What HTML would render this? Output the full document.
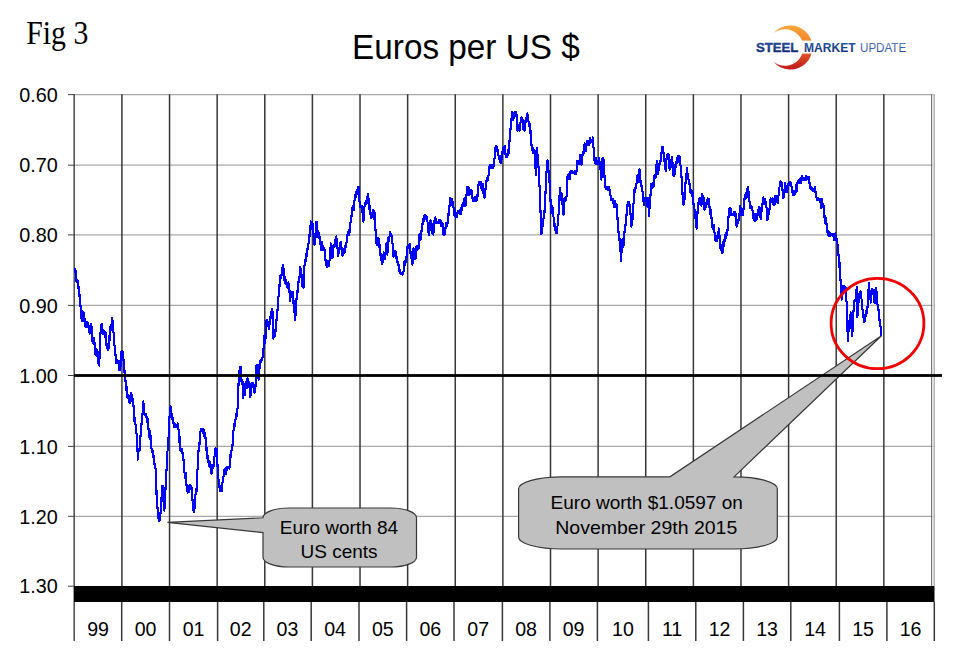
<!DOCTYPE html>
<html><head><meta charset="utf-8"><title>Euros per US $</title>
<style>html,body{margin:0;padding:0;background:#fff;width:966px;height:661px;overflow:hidden;position:relative}</style>
</head><body>
<svg width="966" height="661" viewBox="0 0 966 661" style="position:absolute;left:0;top:0">
<defs><linearGradient id="cres" x1="0" y1="0" x2="0" y2="1"><stop offset="0" stop-color="#f8a83a"/><stop offset="0.45" stop-color="#f07a2a"/><stop offset="1" stop-color="#c0141c"/></linearGradient><linearGradient id="txt" x1="0" y1="0" x2="0" y2="1"><stop offset="0" stop-color="#2a64b4"/><stop offset="1" stop-color="#0a2068"/></linearGradient><linearGradient id="txt2" x1="0" y1="0" x2="0" y2="1"><stop offset="0" stop-color="#5a88cc"/><stop offset="1" stop-color="#24408e"/></linearGradient></defs>
<line x1="74" y1="94.6" x2="934.5" y2="94.6" stroke="#a8a8a8" stroke-width="1.3"/>
<line x1="74" y1="165.2" x2="934.5" y2="165.2" stroke="#a8a8a8" stroke-width="1.3"/>
<line x1="74" y1="234.9" x2="934.5" y2="234.9" stroke="#a8a8a8" stroke-width="1.3"/>
<line x1="74" y1="305.4" x2="934.5" y2="305.4" stroke="#a8a8a8" stroke-width="1.3"/>
<line x1="74" y1="375.5" x2="934.5" y2="375.5" stroke="#a8a8a8" stroke-width="1.3"/>
<line x1="74" y1="446.4" x2="934.5" y2="446.4" stroke="#a8a8a8" stroke-width="1.3"/>
<line x1="74" y1="516.3" x2="934.5" y2="516.3" stroke="#a8a8a8" stroke-width="1.3"/>
<line x1="121.92" y1="94.2" x2="121.92" y2="586" stroke="#383838" stroke-width="1.5"/>
<line x1="169.54" y1="94.2" x2="169.54" y2="586" stroke="#383838" stroke-width="1.5"/>
<line x1="217.16" y1="94.2" x2="217.16" y2="586" stroke="#383838" stroke-width="1.5"/>
<line x1="264.78" y1="94.2" x2="264.78" y2="586" stroke="#383838" stroke-width="1.5"/>
<line x1="312.40" y1="94.2" x2="312.40" y2="586" stroke="#383838" stroke-width="1.5"/>
<line x1="360.02" y1="94.2" x2="360.02" y2="586" stroke="#383838" stroke-width="1.5"/>
<line x1="407.64" y1="94.2" x2="407.64" y2="586" stroke="#383838" stroke-width="1.5"/>
<line x1="455.26" y1="94.2" x2="455.26" y2="586" stroke="#383838" stroke-width="1.5"/>
<line x1="502.88" y1="94.2" x2="502.88" y2="586" stroke="#383838" stroke-width="1.5"/>
<line x1="550.50" y1="94.2" x2="550.50" y2="586" stroke="#383838" stroke-width="1.5"/>
<line x1="598.12" y1="94.2" x2="598.12" y2="586" stroke="#383838" stroke-width="1.5"/>
<line x1="645.74" y1="94.2" x2="645.74" y2="586" stroke="#383838" stroke-width="1.5"/>
<line x1="693.36" y1="94.2" x2="693.36" y2="586" stroke="#383838" stroke-width="1.5"/>
<line x1="740.98" y1="94.2" x2="740.98" y2="586" stroke="#383838" stroke-width="1.5"/>
<line x1="788.60" y1="94.2" x2="788.60" y2="586" stroke="#383838" stroke-width="1.5"/>
<line x1="836.22" y1="94.2" x2="836.22" y2="586" stroke="#383838" stroke-width="1.5"/>
<line x1="883.84" y1="94.2" x2="883.84" y2="586" stroke="#383838" stroke-width="1.5"/>
<line x1="931.8" y1="94.5" x2="931.8" y2="586" stroke="#404040" stroke-width="1"/>
<rect x="932.3" y="94.5" width="1.6" height="492" fill="#e8e8e8"/>
<line x1="934.3" y1="94.5" x2="934.3" y2="586" stroke="#a0a0a0" stroke-width="1"/>
<line x1="121.7" y1="602" x2="121.7" y2="641" stroke="#383838" stroke-width="1.5"/>
<line x1="169.5" y1="602" x2="169.5" y2="641" stroke="#383838" stroke-width="1.5"/>
<line x1="217.6" y1="602" x2="217.6" y2="641" stroke="#383838" stroke-width="1.5"/>
<line x1="263.8" y1="602" x2="263.8" y2="641" stroke="#383838" stroke-width="1.5"/>
<line x1="311.2" y1="602" x2="311.2" y2="641" stroke="#383838" stroke-width="1.5"/>
<line x1="359.0" y1="602" x2="359.0" y2="641" stroke="#383838" stroke-width="1.5"/>
<line x1="406.6" y1="602" x2="406.6" y2="641" stroke="#383838" stroke-width="1.5"/>
<line x1="454.0" y1="602" x2="454.0" y2="641" stroke="#383838" stroke-width="1.5"/>
<line x1="502.4" y1="602" x2="502.4" y2="641" stroke="#383838" stroke-width="1.5"/>
<line x1="549.9" y1="602" x2="549.9" y2="641" stroke="#383838" stroke-width="1.5"/>
<line x1="597.4" y1="602" x2="597.4" y2="641" stroke="#383838" stroke-width="1.5"/>
<line x1="648.4" y1="602" x2="648.4" y2="641" stroke="#383838" stroke-width="1.5"/>
<line x1="695.8" y1="602" x2="695.8" y2="641" stroke="#383838" stroke-width="1.5"/>
<line x1="743.4" y1="602" x2="743.4" y2="641" stroke="#383838" stroke-width="1.5"/>
<line x1="790.8" y1="602" x2="790.8" y2="641" stroke="#383838" stroke-width="1.5"/>
<line x1="839.4" y1="602" x2="839.4" y2="641" stroke="#383838" stroke-width="1.5"/>
<line x1="886.9" y1="602" x2="886.9" y2="641" stroke="#383838" stroke-width="1.5"/>
<line x1="934.3" y1="602" x2="934.3" y2="641" stroke="#383838" stroke-width="1.5"/>
<line x1="74.2" y1="94.2" x2="74.2" y2="641" stroke="#4a4a4a" stroke-width="1.5"/>
<line x1="68" y1="94.6" x2="74.5" y2="94.6" stroke="#404040" stroke-width="1"/>
<line x1="68" y1="165.2" x2="74.5" y2="165.2" stroke="#404040" stroke-width="1"/>
<line x1="68" y1="234.9" x2="74.5" y2="234.9" stroke="#404040" stroke-width="1"/>
<line x1="68" y1="305.4" x2="74.5" y2="305.4" stroke="#404040" stroke-width="1"/>
<line x1="68" y1="375.5" x2="74.5" y2="375.5" stroke="#404040" stroke-width="1"/>
<line x1="68" y1="446.4" x2="74.5" y2="446.4" stroke="#404040" stroke-width="1"/>
<line x1="68" y1="516.3" x2="74.5" y2="516.3" stroke="#404040" stroke-width="1"/>
<line x1="68" y1="586.2" x2="74.5" y2="586.2" stroke="#404040" stroke-width="1"/>
<rect x="74" y="586" width="860.5" height="16" fill="#000"/>
<path d="M74.7,268.2 74.9,268.7 75.1,271.2 75.3,271.8 75.5,272.2 75.7,270.9 75.9,271.6 76.1,275.6 76.3,277.9 76.5,281.8 76.7,280.8 76.9,281.1 77.1,281.2 77.3,280.7 77.5,280.5 77.7,281.8 77.9,281.2 78.1,283.0 78.3,285.0 78.4,284.3 78.6,289.8 78.8,292.2 79.0,296.4 79.2,295.8 79.4,294.8 79.6,295.0 79.8,295.7 80.0,298.3 80.2,300.0 80.4,303.4 80.6,307.6 80.8,313.1 81.0,315.7 81.2,317.7 81.4,316.1 81.6,319.4 81.8,319.5 82.0,320.0 82.2,321.5 82.4,316.7 82.6,311.4 82.8,311.3 83.0,311.6 83.2,312.3 83.4,311.7 83.6,312.2 83.8,312.7 84.0,317.3 84.2,320.9 84.4,317.9 84.6,318.4 84.8,322.8 85.0,320.2 85.2,321.9 85.4,326.7 85.6,325.5 85.8,324.0 86.0,326.4 86.2,326.0 86.4,323.4 86.5,325.4 86.7,326.5 86.9,326.9 87.1,323.3 87.3,322.6 87.5,321.8 87.7,323.1 87.9,324.0 88.1,324.8 88.3,326.7 88.5,326.7 88.7,327.9 88.9,329.8 89.1,330.3 89.3,332.7 89.5,333.0 89.7,333.5 89.9,329.7 90.1,326.1 90.3,326.0 90.5,326.4 90.7,326.3 90.9,324.5 91.1,325.5 91.3,324.2 91.5,327.0 91.8,334.5 92.0,336.4 92.2,341.1 92.4,337.6 92.6,337.5 92.8,337.5 93.0,339.9 93.2,343.6 93.3,337.5 93.5,341.2 93.7,338.3 93.9,340.9 94.1,337.9 94.3,339.2 94.5,343.1 94.7,343.6 94.9,348.3 95.2,354.1 95.4,354.3 95.6,354.5 95.8,350.0 96.0,352.5 96.2,353.7 96.4,355.8 96.5,353.7 96.7,353.0 96.9,349.4 97.1,350.5 97.3,353.9 97.5,350.9 97.7,355.0 97.9,352.6 98.1,355.8 98.3,359.9 98.5,364.0 98.7,363.7 98.9,362.1 99.1,365.0 99.3,365.5 99.5,357.8 99.7,351.7 99.9,347.8 100.1,341.9 100.3,339.3 100.5,333.0 100.7,329.6 100.9,327.4 101.1,325.5 101.3,324.9 101.5,324.6 101.7,324.3 101.9,324.1 102.1,327.9 102.3,327.9 102.5,329.1 102.7,331.6 102.9,330.9 103.1,334.2 103.3,333.8 103.5,334.2 103.7,331.4 103.9,331.0 104.1,334.1 104.3,334.1 104.5,333.4 104.7,332.7 104.9,336.2 105.1,337.1 105.3,332.9 105.5,332.2 105.7,334.6 105.9,335.0 106.1,338.6 106.3,342.2 106.5,345.5 106.7,344.1 106.9,347.6 107.1,344.5 107.3,344.4 107.5,348.0 107.6,344.7 107.8,345.6 108.0,349.7 108.2,348.5 108.4,349.1 108.6,348.7 108.8,346.2 109.0,341.3 109.2,336.3 109.4,340.5 109.6,340.8 109.8,339.7 110.0,330.2 110.2,329.1 110.4,326.2 110.6,328.6 110.8,330.2 111.0,327.6 111.2,324.8 111.4,324.5 111.6,323.9 111.8,321.8 112.0,318.2 112.2,319.2 112.4,323.0 112.6,320.6 112.8,321.9 113.0,325.0 113.2,329.6 113.4,330.9 113.6,333.8 113.8,338.2 114.0,340.2 114.2,342.0 114.4,344.4 114.6,346.4 114.8,348.9 115.0,350.6 115.2,349.3 115.4,352.4 115.6,357.2 115.7,360.4 115.9,361.9 116.1,362.9 116.3,363.0 116.5,361.7 116.7,363.2 116.9,363.3 117.1,362.3 117.3,362.5 117.5,361.8 117.7,360.4 117.9,361.2 118.1,361.4 118.3,362.5 118.5,360.6 118.7,366.0 118.8,367.9 119.0,366.0 119.2,364.9 119.4,370.4 119.6,368.2 119.8,369.1 120.0,370.4 120.2,369.1 120.4,366.7 120.6,366.0 120.8,361.5 121.0,359.6 121.2,353.6 121.4,351.2 121.6,351.9 121.7,352.6 121.9,351.7 122.1,351.4 122.3,352.5 122.5,351.5 122.7,351.4 122.9,352.7 123.1,354.4 123.3,356.7 123.5,359.9 123.7,363.4 123.9,368.9 124.1,372.1 124.3,371.7 124.5,372.0 124.7,370.9 124.9,372.9 125.1,375.5 125.3,376.3 125.5,380.9 125.7,384.6 125.8,387.2 126.0,388.2 126.2,390.6 126.4,386.3 126.6,386.5 126.8,389.4 127.0,390.6 127.2,392.1 127.4,395.6 127.6,398.0 127.8,397.8 128.0,395.9 128.1,396.5 128.3,396.2 128.5,395.0 128.7,396.3 128.9,396.6 129.1,398.5 129.3,401.5 129.5,403.0 129.7,402.9 129.9,402.7 130.1,402.8 130.3,401.6 130.5,401.3 130.7,396.7 130.9,398.1 131.1,393.8 131.3,392.7 131.5,396.5 131.7,394.2 131.9,395.6 132.1,395.3 132.3,399.7 132.5,398.6 132.7,401.1 132.9,400.5 133.1,399.5 133.3,402.1 133.5,406.3 133.7,407.0 133.9,406.0 134.1,408.8 134.3,415.9 134.5,421.9 134.7,421.2 134.9,419.8 135.1,418.0 135.3,423.5 135.5,424.8 135.7,427.1 135.9,428.7 136.1,430.9 136.3,430.5 136.5,433.0 136.7,436.9 136.9,440.3 137.2,443.0 137.4,447.3 137.6,453.2 137.8,459.7 138.0,454.0 138.2,451.8 138.4,451.3 138.6,450.9 138.8,451.1 139.0,449.6 139.2,449.7 139.4,449.0 139.6,450.1 139.8,444.3 140.0,441.2 140.2,440.3 140.4,438.5 140.6,434.1 140.8,430.8 141.0,429.7 141.2,424.4 141.4,423.0 141.6,424.9 141.8,420.4 141.9,417.8 142.1,414.3 142.3,415.3 142.5,413.1 142.7,412.4 142.9,407.6 143.1,404.5 143.3,401.5 143.5,402.9 143.7,407.8 143.9,409.4 144.1,410.6 144.3,414.6 144.5,414.9 144.7,414.9 144.8,414.7 145.0,414.2 145.2,414.7 145.4,414.1 145.6,415.0 145.8,414.8 146.0,413.6 146.2,413.6 146.4,415.6 146.6,418.3 146.8,416.6 147.0,418.8 147.2,419.3 147.4,422.4 147.5,421.7 147.7,418.7 147.9,421.0 148.1,423.9 148.3,424.6 148.5,429.1 148.7,430.6 148.9,437.0 149.1,435.5 149.3,435.7 149.5,436.4 149.7,439.2 149.9,436.2 150.1,431.0 150.3,432.8 150.5,435.0 150.7,436.8 150.9,443.9 151.1,444.6 151.3,445.5 151.5,448.1 151.7,449.3 151.9,450.9 152.1,450.8 152.3,450.0 152.5,452.5 152.7,452.8 152.9,450.6 153.1,455.1 153.3,457.1 153.5,455.4 153.7,458.9 153.9,460.6 154.1,457.3 154.3,462.2 154.5,463.8 154.7,466.9 154.9,468.2 155.1,468.5 155.3,465.3 155.5,468.6 155.7,469.4 155.9,469.4 156.1,476.9 156.4,486.8 156.6,496.0 156.8,504.2 157.0,504.4 157.2,504.9 157.4,508.2 157.6,507.4 157.8,510.7 158.0,514.2 158.2,515.4 158.4,518.8 158.6,516.7 158.8,520.7 159.0,518.7 159.2,518.8 159.4,519.4 159.6,520.3 159.8,519.1 160.0,519.3 160.2,518.8 160.4,515.8 160.6,510.7 160.8,508.7 161.0,509.1 161.2,504.0 161.4,499.0 161.6,496.7 161.8,489.4 162.0,486.4 162.2,487.3 162.4,489.2 162.6,485.8 162.8,493.7 163.0,494.8 163.2,497.7 163.4,502.0 163.6,501.5 163.8,505.7 164.0,508.6 164.2,506.9 164.4,510.6 164.6,504.4 164.8,500.0 165.0,500.4 165.2,497.5 165.4,492.9 165.6,485.9 165.8,479.7 166.0,476.1 166.2,474.4 166.4,471.5 166.6,468.7 166.8,464.5 167.0,461.7 167.2,458.2 167.4,451.7 167.7,449.8 167.9,445.1 168.1,440.3 168.3,441.7 168.5,437.0 168.7,436.1 168.9,430.4 169.1,428.5 169.2,430.3 169.4,419.7 169.6,414.6 169.8,411.8 170.0,407.6 170.2,411.7 170.4,412.8 170.6,410.0 170.8,406.4 171.0,410.3 171.2,413.0 171.4,411.7 171.5,414.8 171.7,416.9 171.9,419.4 172.1,414.3 172.3,414.3 172.5,417.5 172.7,420.2 172.9,423.3 173.1,422.1 173.3,422.6 173.5,422.1 173.7,423.5 173.9,422.7 174.1,423.8 174.3,427.0 174.5,425.1 174.7,425.4 174.9,427.3 175.1,426.8 175.3,426.8 175.4,424.4 175.6,427.1 175.8,426.7 176.0,426.5 176.2,426.6 176.4,426.2 176.6,426.3 176.8,426.9 177.0,427.2 177.2,426.9 177.4,425.9 177.6,423.5 177.8,425.8 178.0,426.9 178.2,428.9 178.4,428.3 178.6,430.3 178.8,433.6 179.0,435.2 179.2,442.6 179.4,437.8 179.6,439.3 179.8,436.5 180.0,441.1 180.2,450.0 180.4,449.3 180.6,450.5 180.8,449.8 181.0,449.5 181.2,449.4 181.4,449.1 181.6,448.7 181.8,448.9 182.0,448.7 182.2,449.7 182.4,450.7 182.6,454.5 182.8,460.3 183.0,458.5 183.2,454.1 183.4,456.9 183.6,461.5 183.8,464.5 184.0,465.7 184.2,469.0 184.4,471.7 184.6,473.7 184.8,477.2 185.0,478.2 185.2,476.1 185.4,473.1 185.6,472.6 185.7,473.3 185.9,476.0 186.1,478.9 186.3,483.1 186.5,486.1 186.7,486.8 186.9,487.7 187.1,484.9 187.3,487.2 187.5,491.2 187.7,492.6 187.9,492.1 188.1,490.9 188.3,488.5 188.5,488.9 188.7,491.9 188.9,491.4 189.1,488.4 189.3,486.8 189.5,485.0 189.7,485.8 189.9,485.0 190.1,485.6 190.3,485.8 190.5,486.3 190.7,488.6 190.9,488.7 191.1,486.4 191.3,489.4 191.5,487.5 191.7,494.7 191.9,497.1 192.1,499.2 192.3,498.4 192.5,500.4 192.7,499.7 192.9,502.1 193.1,505.5 193.3,507.7 193.5,510.6 193.7,511.9 193.9,511.8 194.1,511.4 194.3,510.2 194.5,508.5 194.7,506.9 194.9,507.4 195.1,505.7 195.3,498.0 195.4,496.5 195.6,492.7 195.8,493.0 196.0,490.0 196.2,488.9 196.4,493.1 196.6,489.0 196.8,484.6 197.0,479.5 197.2,471.8 197.4,470.5 197.6,468.6 197.8,465.2 198.0,459.7 198.2,456.3 198.4,450.2 198.6,451.3 198.8,450.7 199.0,445.5 199.2,447.1 199.4,447.3 199.6,440.3 199.8,436.0 200.0,433.8 200.2,431.6 200.4,431.8 200.6,431.8 200.7,431.2 200.9,429.3 201.1,429.8 201.3,429.3 201.5,430.0 201.7,429.6 201.9,429.5 202.1,431.4 202.3,429.2 202.5,430.1 202.6,432.5 202.8,431.1 203.0,432.5 203.2,429.3 203.4,430.9 203.6,430.7 203.8,429.6 204.0,431.3 204.2,430.5 204.4,436.4 204.6,435.7 204.7,437.2 204.9,435.9 205.1,432.7 205.3,435.2 205.5,437.2 205.7,440.9 205.9,441.8 206.1,443.6 206.3,446.8 206.5,450.6 206.7,450.1 206.8,447.4 207.0,452.4 207.2,453.9 207.4,458.1 207.6,455.1 207.8,455.5 208.0,456.8 208.2,459.3 208.4,461.8 208.6,463.7 208.8,462.8 209.0,464.1 209.2,466.6 209.4,465.5 209.6,461.2 209.8,462.5 210.0,464.2 210.2,464.6 210.4,467.4 210.6,466.3 210.8,466.5 211.0,466.2 211.2,468.1 211.4,472.7 211.6,474.0 211.8,473.3 212.0,469.9 212.2,467.4 212.4,464.7 212.6,466.3 212.8,468.5 213.0,464.5 213.2,466.3 213.4,468.1 213.6,466.0 213.8,461.6 214.0,459.1 214.2,457.0 214.4,457.3 214.6,455.8 214.8,450.0 215.0,449.7 215.2,449.5 215.4,448.5 215.6,449.4 215.8,448.6 216.0,453.1 216.2,455.2 216.4,454.3 216.6,448.9 216.8,451.0 217.0,455.8 217.2,458.3 217.4,462.3 217.6,467.8 217.8,472.4 218.0,472.9 218.2,477.3 218.4,478.9 218.6,479.3 218.8,482.8 219.0,486.4 219.2,487.5 219.4,484.8 219.6,487.6 219.8,487.3 220.0,489.8 220.2,491.2 220.4,490.6 220.6,490.5 220.8,490.1 221.0,485.8 221.2,485.5 221.3,485.5 221.5,491.1 221.7,487.9 221.9,489.8 222.1,490.8 222.3,485.5 222.5,482.4 222.7,481.8 222.9,482.2 223.1,479.7 223.3,481.0 223.5,476.1 223.7,476.2 223.9,473.3 224.1,469.7 224.3,472.8 224.5,469.0 224.7,472.0 224.9,472.2 225.1,474.5 225.3,470.4 225.5,472.0 225.7,474.2 225.9,472.4 226.1,470.5 226.3,468.7 226.5,467.2 226.7,466.8 226.9,467.6 227.1,467.1 227.3,469.8 227.5,466.8 227.7,466.7 227.9,467.8 228.1,467.0 228.3,467.3 228.5,467.3 228.7,467.0 228.9,467.8 229.1,467.8 229.3,468.7 229.5,468.2 229.7,464.3 229.9,466.7 230.1,466.3 230.3,462.7 230.5,456.2 230.7,451.5 230.8,456.9 231.0,452.8 231.2,451.5 231.4,451.0 231.6,449.5 231.8,447.7 232.0,448.2 232.2,445.9 232.4,446.6 232.6,443.8 232.8,441.3 233.0,440.8 233.2,433.3 233.4,432.5 233.6,429.5 233.8,425.2 234.0,423.6 234.2,425.2 234.4,423.7 234.6,426.5 234.8,423.0 235.0,421.7 235.2,422.7 235.4,419.6 235.6,419.0 235.8,417.6 236.0,416.4 236.2,414.1 236.3,414.4 236.5,413.4 236.7,413.9 236.9,414.7 237.1,415.8 237.3,410.3 237.5,409.1 237.7,405.4 237.9,399.6 238.2,394.0 238.4,387.4 238.6,381.8 238.8,381.2 239.0,375.3 239.2,371.2 239.4,373.3 239.6,372.1 239.8,370.3 239.9,370.1 240.1,368.2 240.3,366.9 240.5,367.0 240.7,367.1 240.9,368.2 241.1,375.4 241.3,379.7 241.5,381.4 241.7,379.3 241.9,382.1 242.1,383.9 242.2,384.0 242.4,383.9 242.6,381.0 242.8,385.4 243.0,388.1 243.2,397.7 243.4,396.8 243.6,393.5 243.8,395.0 244.0,390.3 244.2,390.8 244.4,392.6 244.6,395.3 244.8,391.8 245.0,393.6 245.2,390.8 245.4,387.8 245.5,383.3 245.7,385.3 245.9,388.6 246.1,386.1 246.3,383.1 246.5,381.2 246.7,386.7 246.9,388.3 247.1,385.9 247.3,380.2 247.5,378.1 247.7,379.5 247.9,379.9 248.1,381.3 248.3,386.4 248.5,384.9 248.7,384.9 248.8,381.9 249.0,383.6 249.2,386.8 249.4,384.7 249.6,385.5 249.8,389.1 250.0,395.5 250.2,396.9 250.4,397.0 250.6,394.7 250.8,389.3 251.0,386.1 251.2,387.9 251.4,385.3 251.6,382.9 251.8,382.9 252.0,382.9 252.2,382.6 252.4,383.6 252.6,386.7 252.8,384.0 253.0,386.0 253.2,382.8 253.4,384.1 253.6,384.2 253.8,385.3 254.1,387.8 254.3,387.1 254.5,393.2 254.7,391.7 254.9,390.0 255.1,389.3 255.3,387.8 255.6,386.0 255.8,378.9 256.0,374.8 256.2,366.5 256.4,365.9 256.6,364.6 256.8,365.4 257.0,365.2 257.2,365.3 257.4,365.2 257.6,364.7 257.8,373.1 258.0,373.2 258.2,375.2 258.4,377.7 258.6,379.5 258.8,379.3 259.0,378.9 259.2,372.1 259.4,370.4 259.6,367.8 259.8,363.5 260.0,360.5 260.2,361.6 260.4,362.4 260.6,361.7 260.8,362.3 261.0,360.1 261.2,359.7 261.4,359.1 261.6,360.1 261.8,359.5 262.0,359.3 262.2,360.4 262.4,357.9 262.6,357.4 262.8,357.5 263.0,353.6 263.2,351.4 263.4,349.1 263.6,348.0 263.8,342.9 264.0,341.2 264.2,340.7 264.4,335.2 264.6,337.2 264.8,339.5 265.0,341.1 265.1,343.1 265.3,341.9 265.5,337.9 265.7,333.2 265.9,328.0 266.1,325.1 266.3,321.9 266.5,320.5 266.7,320.7 266.9,321.0 267.1,322.7 267.3,320.1 267.5,321.3 267.6,324.0 267.8,325.7 268.0,324.9 268.2,323.8 268.4,323.3 268.6,325.3 268.8,329.5 269.0,325.6 269.2,325.2 269.4,325.4 269.6,324.4 269.8,321.0 270.0,320.2 270.2,318.6 270.4,318.8 270.6,315.9 270.8,318.0 271.0,312.9 271.2,311.8 271.4,311.1 271.6,312.9 271.8,310.6 272.0,311.3 272.2,309.1 272.4,309.4 272.6,315.8 272.8,324.2 273.0,329.6 273.2,336.0 273.4,338.6 273.6,336.7 273.8,335.7 274.0,335.3 274.2,333.7 274.4,337.0 274.6,336.6 274.8,335.3 275.0,333.3 275.2,330.1 275.4,332.1 275.6,331.0 275.8,326.7 276.0,323.7 276.2,321.8 276.4,319.1 276.6,320.4 276.8,315.9 277.0,312.1 277.2,312.1 277.4,312.0 277.6,307.6 277.8,300.9 278.0,303.0 278.2,301.6 278.4,297.5 278.6,295.9 278.8,296.5 279.0,288.0 279.2,289.2 279.4,289.4 279.6,282.2 279.8,282.5 280.0,276.1 280.2,277.3 280.4,276.6 280.6,278.7 280.8,275.0 281.0,276.3 281.2,276.6 281.4,276.0 281.5,275.2 281.7,275.0 281.9,273.9 282.1,268.9 282.3,268.1 282.5,267.4 282.7,266.8 282.9,264.8 283.1,266.5 283.3,268.3 283.5,268.3 283.7,271.6 283.9,271.9 284.1,274.6 284.3,278.1 284.5,280.6 284.7,283.3 284.9,281.0 285.1,278.4 285.3,277.5 285.5,279.5 285.7,283.1 285.9,281.8 286.1,280.4 286.3,280.9 286.5,284.6 286.7,282.7 286.9,286.4 287.1,286.2 287.3,286.4 287.5,287.7 287.7,285.0 287.9,286.7 288.1,287.0 288.3,282.4 288.5,283.4 288.7,284.1 288.9,284.7 289.1,287.8 289.3,286.4 289.5,291.2 289.7,295.7 290.0,300.8 290.2,301.4 290.4,300.0 290.6,295.3 290.8,293.8 291.0,292.7 291.2,292.0 291.4,291.8 291.5,291.9 291.7,292.1 291.9,292.6 292.1,291.9 292.3,292.2 292.5,291.7 292.7,293.2 292.9,298.6 293.1,297.0 293.3,301.4 293.5,303.5 293.7,301.0 293.9,306.2 294.0,309.6 294.2,312.3 294.4,312.1 294.6,313.5 294.8,320.0 295.0,320.5 295.2,315.6 295.4,315.6 295.6,315.0 295.8,310.3 296.0,310.2 296.2,303.3 296.4,298.9 296.6,299.8 296.8,297.0 297.0,291.6 297.2,290.9 297.4,292.3 297.6,289.5 297.8,291.8 298.0,283.6 298.2,284.6 298.4,281.8 298.6,282.0 298.8,282.7 299.0,278.6 299.2,277.3 299.4,276.9 299.6,277.4 299.8,273.9 300.0,270.3 300.2,267.3 300.4,269.8 300.6,268.2 300.8,268.7 301.0,268.6 301.2,269.7 301.4,273.1 301.6,276.5 301.8,278.8 302.0,279.9 302.2,283.5 302.4,286.7 302.6,284.2 302.8,285.8 303.0,284.5 303.2,283.7 303.4,286.4 303.6,287.7 303.8,287.5 304.0,278.9 304.2,272.7 304.4,266.4 304.6,264.8 304.8,261.9 305.0,259.9 305.2,261.4 305.4,260.4 305.6,259.4 305.8,260.8 306.0,259.3 306.2,256.3 306.4,253.2 306.6,257.0 306.8,251.2 307.0,250.5 307.2,249.4 307.4,249.9 307.6,247.7 307.8,247.8 308.0,248.7 308.2,247.2 308.4,244.8 308.6,243.2 308.8,243.4 309.0,243.1 309.2,242.3 309.4,239.6 309.6,233.5 309.8,233.7 310.0,232.7 310.2,229.8 310.4,225.8 310.6,227.6 310.8,221.4 311.0,224.5 311.2,224.7 311.4,229.3 311.6,226.0 311.8,224.4 312.0,221.6 312.2,225.0 312.4,223.9 312.6,223.9 312.8,223.9 313.0,225.5 313.1,228.7 313.3,234.1 313.5,233.4 313.7,237.8 313.9,241.2 314.1,244.3 314.3,243.2 314.5,244.7 314.7,239.1 314.9,238.3 315.1,237.7 315.3,239.3 315.5,237.8 315.7,234.4 315.9,230.1 316.1,224.6 316.3,224.4 316.5,221.6 316.7,222.8 316.9,224.7 317.1,227.2 317.3,227.3 317.5,230.7 317.7,233.9 317.9,235.4 318.1,235.4 318.2,235.1 318.4,237.9 318.6,236.0 318.8,236.6 319.0,235.7 319.2,233.0 319.4,235.6 319.6,236.5 319.8,237.6 320.0,240.9 320.2,241.2 320.4,242.9 320.6,246.0 320.8,245.7 321.0,249.9 321.2,248.7 321.4,248.9 321.6,244.6 321.8,243.2 322.0,241.7 322.2,246.1 322.4,248.0 322.6,245.7 322.8,247.6 323.0,249.4 323.2,249.4 323.4,250.0 323.6,248.9 323.8,248.7 324.0,250.2 324.2,248.6 324.4,248.5 324.6,251.3 324.8,251.0 325.0,250.0 325.2,255.7 325.4,258.5 325.6,261.7 325.8,260.0 326.0,264.7 326.2,261.2 326.4,260.5 326.6,263.0 326.8,267.0 327.0,264.3 327.2,263.9 327.4,262.6 327.6,261.1 327.8,263.8 328.0,262.0 328.2,263.9 328.4,264.4 328.6,266.1 328.8,264.0 328.9,264.7 329.1,265.0 329.3,261.8 329.5,260.9 329.7,258.9 329.9,257.2 330.1,258.8 330.3,255.4 330.5,249.5 330.7,243.5 330.9,243.7 331.1,243.7 331.3,248.4 331.5,247.3 331.7,253.1 331.9,255.4 332.1,258.4 332.3,257.3 332.5,258.0 332.7,256.6 332.9,255.5 333.1,254.4 333.3,252.5 333.5,245.5 333.7,247.4 333.9,247.5 334.1,247.4 334.3,245.3 334.4,245.4 334.6,244.9 334.8,244.1 335.0,246.4 335.2,241.6 335.4,241.7 335.6,238.5 335.8,237.2 336.0,240.4 336.2,237.2 336.4,236.0 336.6,240.9 336.8,242.8 337.0,245.9 337.2,247.8 337.4,248.9 337.6,248.5 337.8,250.2 338.0,256.2 338.2,254.0 338.4,250.4 338.6,252.7 338.8,253.6 339.0,250.2 339.2,251.7 339.4,247.9 339.5,248.5 339.7,245.1 339.9,243.0 340.1,243.2 340.3,243.3 340.5,244.8 340.7,241.7 340.9,243.9 341.1,245.8 341.3,249.1 341.5,247.0 341.7,251.7 341.9,250.5 342.1,251.9 342.3,254.7 342.5,256.2 342.7,255.4 342.9,252.9 343.1,252.0 343.3,250.1 343.5,249.2 343.7,250.7 343.9,253.1 344.1,252.4 344.3,251.9 344.5,252.9 344.7,251.2 344.9,247.5 345.1,249.2 345.3,245.8 345.5,247.1 345.7,243.6 345.9,247.2 346.1,243.5 346.3,244.9 346.5,242.8 346.7,239.3 346.9,238.4 347.1,239.3 347.3,239.3 347.5,234.6 347.7,233.2 347.9,231.7 348.1,233.5 348.3,234.7 348.5,234.2 348.7,235.4 348.9,232.6 349.1,231.4 349.3,229.3 349.5,229.9 349.7,232.8 349.9,230.3 350.1,226.5 350.2,223.6 350.4,222.4 350.6,222.5 350.8,218.9 351.0,220.0 351.2,216.0 351.4,216.7 351.6,216.3 351.8,216.2 352.0,208.3 352.2,209.6 352.4,210.5 352.6,210.3 352.8,208.8 353.0,206.4 353.2,205.4 353.4,207.8 353.6,207.0 353.8,209.8 354.0,202.8 354.2,201.1 354.4,201.3 354.6,200.7 354.8,196.0 355.0,195.1 355.2,196.3 355.4,197.2 355.6,196.7 355.8,192.0 356.0,197.6 356.2,193.8 356.4,192.8 356.5,191.6 356.7,192.2 356.9,190.0 357.1,189.8 357.3,193.8 357.5,192.7 357.7,188.7 357.9,188.2 358.1,191.5 358.3,187.2 358.5,186.9 358.7,187.0 358.9,191.6 359.0,189.4 359.2,194.1 359.4,199.3 359.6,203.0 359.8,207.2 360.0,205.9 360.2,206.3 360.4,206.1 360.6,206.0 360.8,205.8 361.0,207.0 361.2,206.8 361.4,206.5 361.6,206.0 361.8,206.4 362.0,206.2 362.2,206.5 362.4,209.4 362.6,214.1 362.8,218.5 363.0,217.5 363.2,220.8 363.4,221.7 363.6,218.6 363.8,218.0 364.0,216.3 364.2,211.6 364.4,207.3 364.6,205.2 364.8,204.7 365.0,204.0 365.2,203.6 365.4,203.0 365.6,202.9 365.8,204.1 366.0,203.4 366.2,203.6 366.4,200.6 366.5,202.2 366.7,201.3 366.9,203.6 367.1,197.8 367.3,197.1 367.5,199.0 367.7,194.1 367.9,194.5 368.1,197.3 368.3,197.4 368.5,198.5 368.7,202.4 368.9,203.2 369.1,205.8 369.2,208.7 369.4,209.9 369.6,205.7 369.8,207.7 370.0,209.9 370.2,211.9 370.4,211.6 370.6,216.3 370.8,217.7 371.0,217.6 371.2,212.6 371.4,214.7 371.6,217.1 371.8,214.9 372.0,214.2 372.2,215.1 372.4,213.8 372.6,215.6 372.8,214.8 373.0,215.5 373.2,214.7 373.4,209.9 373.6,211.6 373.8,214.8 374.0,219.4 374.2,218.2 374.4,217.7 374.6,214.2 374.8,212.8 375.0,215.3 375.2,221.7 375.4,227.0 375.6,231.4 375.8,237.0 376.0,237.3 376.2,239.6 376.4,243.0 376.6,244.2 376.8,245.0 377.0,244.4 377.2,243.3 377.4,240.1 377.6,244.9 377.8,243.7 378.0,238.3 378.2,238.9 378.4,238.7 378.6,239.0 378.8,243.5 379.0,247.1 379.2,246.1 379.4,246.3 379.6,244.6 379.8,247.3 380.0,249.6 380.2,248.6 380.4,250.3 380.6,257.1 380.8,260.5 381.0,257.8 381.2,257.8 381.4,259.6 381.6,259.8 381.8,260.9 382.0,264.1 382.2,263.8 382.4,262.6 382.6,261.2 382.8,261.7 383.0,261.7 383.2,261.5 383.4,256.7 383.6,252.7 383.8,252.4 384.0,255.7 384.2,254.1 384.4,255.3 384.6,255.4 384.8,256.4 385.0,258.7 385.1,254.7 385.3,255.2 385.5,254.5 385.7,253.5 385.9,251.1 386.1,248.9 386.3,246.0 386.5,243.0 386.7,249.2 386.9,253.3 387.1,253.1 387.3,254.7 387.5,252.0 387.7,244.7 387.9,239.9 388.1,237.7 388.3,239.5 388.5,240.9 388.7,239.3 388.9,239.7 389.1,241.3 389.2,236.5 389.4,236.6 389.6,235.6 389.8,232.1 390.0,234.4 390.2,234.5 390.4,232.8 390.6,233.5 390.8,235.2 391.0,235.4 391.2,236.0 391.4,235.4 391.6,235.2 391.8,236.6 392.0,236.6 392.1,240.0 392.3,241.3 392.5,243.2 392.7,245.9 392.9,250.8 393.1,254.0 393.3,256.2 393.5,256.6 393.7,254.1 393.9,254.9 394.1,254.2 394.3,251.9 394.5,251.7 394.6,251.2 394.8,251.3 395.0,251.7 395.2,252.3 395.4,251.8 395.6,251.5 395.8,251.7 396.0,252.6 396.2,252.3 396.4,255.5 396.6,259.5 396.8,259.7 397.0,256.9 397.2,260.3 397.4,260.0 397.6,263.7 397.8,261.4 397.9,263.5 398.1,264.0 398.3,262.8 398.5,264.7 398.7,267.7 398.9,268.8 399.1,268.3 399.3,271.4 399.5,269.5 399.7,273.4 399.9,271.7 400.1,269.5 400.3,271.6 400.5,273.9 400.7,274.0 400.9,274.2 401.1,273.9 401.3,274.2 401.5,273.9 401.7,273.5 401.9,274.3 402.0,273.8 402.2,273.0 402.4,274.5 402.6,274.6 402.8,274.3 403.0,273.0 403.2,273.7 403.4,271.5 403.6,271.1 403.8,271.3 404.0,268.3 404.2,267.1 404.4,261.4 404.6,262.6 404.8,264.5 405.0,264.8 405.2,263.6 405.4,262.4 405.6,262.3 405.8,260.9 406.0,258.9 406.2,257.3 406.4,259.6 406.5,257.4 406.7,257.7 406.9,254.1 407.1,251.7 407.3,247.6 407.5,246.4 407.7,247.5 407.9,247.6 408.1,245.7 408.3,246.6 408.5,245.0 408.7,245.3 408.9,245.0 409.1,248.2 409.3,244.2 409.5,244.1 409.7,244.1 409.9,244.2 410.1,245.8 410.3,247.3 410.5,251.5 410.6,254.9 410.8,257.5 411.0,258.1 411.2,256.3 411.4,256.7 411.6,256.5 411.8,258.1 412.0,257.9 412.2,264.6 412.4,263.5 412.6,263.6 412.8,262.8 413.0,256.7 413.2,252.3 413.4,248.3 413.6,253.0 413.8,252.0 414.0,250.8 414.2,248.9 414.4,250.8 414.6,250.4 414.7,254.2 414.9,255.7 415.1,259.3 415.3,258.5 415.5,258.9 415.7,257.3 415.9,256.4 416.1,251.5 416.3,249.6 416.5,246.7 416.7,245.9 416.9,247.1 417.1,248.3 417.3,249.3 417.5,250.2 417.8,248.1 418.0,247.3 418.2,247.4 418.4,249.2 418.6,248.9 418.8,243.2 419.0,242.5 419.2,237.8 419.4,235.0 419.6,234.4 419.8,237.6 420.0,237.7 420.2,238.3 420.4,239.7 420.6,239.1 420.8,235.9 421.0,234.5 421.2,234.3 421.4,232.5 421.6,229.2 421.8,229.2 422.0,225.4 422.2,224.6 422.4,223.3 422.6,224.7 422.8,222.7 422.9,220.6 423.1,220.1 423.3,219.2 423.5,222.3 423.7,220.5 423.9,218.1 424.1,216.2 424.3,216.1 424.5,218.2 424.7,219.5 424.9,214.7 425.1,216.7 425.3,217.7 425.5,215.5 425.7,215.5 425.9,218.0 426.1,216.8 426.3,217.1 426.5,217.1 426.7,217.5 426.9,216.9 427.1,217.6 427.2,217.4 427.4,221.8 427.6,222.4 427.8,225.0 428.0,225.9 428.2,231.7 428.4,232.1 428.6,233.4 428.8,234.3 429.0,234.6 429.2,232.9 429.4,232.7 429.6,229.0 429.8,224.2 430.0,221.5 430.1,223.6 430.3,225.2 430.5,220.4 430.7,222.7 430.9,221.9 431.1,222.4 431.3,221.7 431.5,223.5 431.8,225.5 432.0,226.0 432.2,233.4 432.4,232.8 432.6,233.2 432.8,234.1 433.0,232.0 433.2,231.4 433.4,234.8 433.6,229.6 433.8,224.6 434.0,220.7 434.2,221.1 434.4,222.6 434.6,220.3 434.8,220.5 435.0,218.9 435.2,217.4 435.4,218.3 435.6,218.9 435.8,222.8 436.0,221.2 436.2,222.7 436.4,222.1 436.6,222.5 436.8,222.6 437.0,223.0 437.2,222.1 437.4,222.3 437.6,222.6 437.8,222.7 438.0,223.0 438.2,222.4 438.4,222.6 438.6,221.7 438.8,221.8 439.0,222.3 439.2,220.3 439.4,223.4 439.6,222.9 439.8,222.1 440.0,223.1 440.1,221.8 440.3,220.2 440.5,220.2 440.7,224.7 440.9,225.1 441.1,225.6 441.3,224.4 441.5,223.4 441.7,223.5 441.9,223.1 442.1,223.2 442.3,222.9 442.5,223.1 442.6,224.6 442.8,231.3 443.0,230.0 443.2,231.0 443.4,233.2 443.6,234.9 443.8,234.5 444.0,233.4 444.2,233.1 444.4,234.8 444.6,234.8 444.8,232.6 445.0,229.4 445.2,228.3 445.4,228.6 445.6,226.8 445.8,223.4 445.9,228.1 446.1,226.3 446.3,226.2 446.5,225.2 446.7,224.0 446.9,224.4 447.1,224.0 447.3,225.9 447.5,223.2 447.7,219.8 447.9,216.9 448.1,214.1 448.3,214.9 448.5,214.4 448.7,210.8 448.9,211.5 449.0,215.0 449.2,210.5 449.4,208.5 449.6,204.4 449.8,198.5 450.0,198.4 450.2,198.8 450.4,199.9 450.6,201.2 450.8,199.4 451.0,205.2 451.2,203.1 451.4,204.2 451.6,200.6 451.8,198.7 451.9,199.1 452.1,199.7 452.3,203.9 452.5,204.1 452.7,202.0 452.9,203.1 453.1,205.3 453.3,203.9 453.5,207.5 453.7,207.8 453.9,209.4 454.1,211.2 454.3,214.1 454.5,215.4 454.7,211.2 454.9,209.8 455.1,214.8 455.3,216.2 455.5,217.2 455.7,214.0 455.9,217.6 456.1,217.4 456.3,216.7 456.5,216.6 456.7,216.9 456.9,216.8 457.1,217.5 457.3,215.1 457.5,212.6 457.7,211.1 457.9,212.0 458.1,212.1 458.3,212.0 458.5,212.6 458.7,212.9 458.9,213.4 459.1,213.5 459.3,212.7 459.5,211.4 459.7,211.8 459.9,214.0 460.1,214.0 460.3,213.8 460.4,210.7 460.6,208.2 460.8,211.5 461.0,209.8 461.2,214.0 461.4,211.6 461.6,209.9 461.8,204.9 462.0,205.6 462.2,205.3 462.4,206.6 462.6,205.7 462.8,203.2 463.0,204.4 463.2,206.5 463.4,205.5 463.6,200.6 463.8,201.1 464.0,201.8 464.2,202.5 464.4,199.4 464.6,198.1 464.8,198.4 465.0,200.1 465.2,205.5 465.4,206.1 465.6,204.4 465.8,198.1 466.0,195.6 466.2,197.2 466.4,197.8 466.6,193.5 466.8,189.2 467.0,187.0 467.2,187.0 467.4,187.0 467.5,186.6 467.7,188.2 467.9,186.7 468.1,188.6 468.3,190.3 468.5,191.1 468.7,191.9 468.9,188.1 469.1,191.2 469.3,195.0 469.5,193.8 469.7,192.7 469.9,192.7 470.1,193.8 470.3,193.8 470.5,193.3 470.6,193.2 470.8,194.5 471.0,193.7 471.2,190.0 471.4,190.6 471.6,190.3 471.8,194.5 472.0,193.2 472.2,193.5 472.4,197.8 472.6,199.4 472.8,201.3 473.0,200.4 473.2,199.7 473.4,198.6 473.5,199.5 473.7,198.3 473.9,198.3 474.1,199.4 474.3,199.8 474.5,200.8 474.7,200.8 474.9,199.9 475.1,199.0 475.3,197.6 475.5,196.6 475.7,197.3 475.9,200.6 476.1,200.2 476.3,199.6 476.5,200.7 476.7,200.2 476.9,195.2 477.1,196.1 477.3,195.2 477.5,193.8 477.7,195.5 477.9,195.8 478.1,194.4 478.3,188.9 478.5,184.5 478.7,183.7 478.9,182.1 479.1,183.3 479.3,184.6 479.5,184.0 479.7,183.4 479.9,182.0 480.0,183.0 480.2,182.7 480.4,182.7 480.6,182.2 480.8,182.6 481.0,182.2 481.2,183.5 481.4,188.5 481.6,185.3 481.8,183.7 482.0,188.2 482.2,189.7 482.4,184.9 482.6,186.3 482.8,183.8 483.0,188.2 483.2,191.8 483.4,191.0 483.6,194.9 483.8,193.3 484.0,196.3 484.2,197.0 484.4,196.8 484.6,196.9 484.8,197.6 485.0,190.0 485.2,190.3 485.4,191.9 485.5,189.4 485.7,184.8 485.9,183.8 486.1,180.6 486.3,180.8 486.5,180.6 486.7,181.7 486.9,178.9 487.1,178.1 487.3,178.5 487.5,178.6 487.7,180.6 487.9,178.0 488.0,175.5 488.2,178.0 488.4,176.6 488.6,175.8 488.8,173.1 489.0,173.7 489.2,170.8 489.4,166.3 489.6,166.9 489.8,167.6 490.0,167.7 490.2,167.0 490.4,164.9 490.6,164.9 490.8,165.2 490.9,164.9 491.1,166.0 491.3,167.5 491.5,167.4 491.7,167.8 491.9,165.6 492.1,166.3 492.3,165.5 492.5,167.4 492.7,167.8 492.9,167.4 493.1,167.6 493.3,166.0 493.5,165.7 493.7,166.6 493.9,163.8 494.1,164.6 494.3,161.9 494.5,158.7 494.7,158.4 494.9,156.9 495.1,153.5 495.3,148.4 495.5,147.5 495.7,147.3 495.9,148.5 496.1,148.7 496.3,145.8 496.5,150.7 496.7,146.2 496.9,147.4 497.0,146.8 497.2,150.1 497.4,149.4 497.6,149.9 497.8,151.8 498.0,153.4 498.2,152.4 498.4,154.6 498.6,155.9 498.8,158.9 499.0,157.9 499.1,158.2 499.3,157.5 499.5,155.7 499.7,156.8 499.9,158.2 500.1,162.3 500.3,161.8 500.5,161.0 500.7,163.2 500.9,162.8 501.1,160.9 501.3,159.7 501.5,159.1 501.7,156.5 501.9,155.7 502.1,156.0 502.3,158.7 502.5,152.1 502.7,147.7 502.9,148.7 503.1,148.4 503.3,149.2 503.5,148.4 503.7,147.6 503.9,149.1 504.1,147.2 504.3,147.6 504.5,149.5 504.8,150.5 505.0,148.7 505.2,146.3 505.4,151.3 505.6,156.1 505.8,157.2 506.0,157.0 506.2,155.4 506.3,155.2 506.5,156.1 506.7,155.8 506.9,156.2 507.1,157.1 507.3,155.8 507.5,155.8 507.7,154.3 507.9,152.7 508.1,150.3 508.3,150.6 508.5,153.8 508.7,150.9 508.9,146.2 509.1,145.9 509.3,146.8 509.5,141.1 509.7,137.5 509.9,133.0 510.1,132.6 510.3,132.0 510.5,128.3 510.7,129.7 510.9,129.6 511.1,126.6 511.3,122.8 511.5,118.8 511.7,115.0 511.9,113.9 512.1,112.4 512.3,116.7 512.5,115.4 512.7,115.6 512.9,118.2 513.1,119.7 513.3,119.2 513.5,113.4 513.6,116.9 513.8,118.3 514.0,117.0 514.2,116.7 514.4,114.1 514.6,112.1 514.8,113.1 515.0,112.8 515.2,112.5 515.4,112.4 515.6,112.3 515.8,113.5 516.0,113.6 516.2,112.7 516.4,112.5 516.6,118.6 516.8,119.9 516.9,123.8 517.1,127.3 517.3,126.1 517.5,130.7 517.7,128.8 517.9,129.3 518.1,127.7 518.3,125.7 518.5,128.1 518.7,127.0 518.9,125.3 519.1,128.3 519.3,130.6 519.5,130.5 519.6,128.5 519.8,125.3 520.0,126.4 520.2,123.6 520.4,124.4 520.6,120.8 520.8,119.4 521.0,118.8 521.2,118.6 521.4,117.4 521.6,117.3 521.8,117.6 522.0,118.1 522.2,118.1 522.4,117.8 522.6,120.4 522.8,122.6 523.0,127.1 523.2,129.3 523.4,127.7 523.6,127.4 523.8,130.0 524.0,125.8 524.2,124.8 524.3,128.8 524.5,129.5 524.7,129.7 524.9,130.6 525.1,129.0 525.3,125.8 525.5,121.5 525.7,117.7 525.9,118.2 526.1,120.2 526.3,119.0 526.4,117.1 526.6,118.0 526.8,119.5 527.0,120.0 527.2,115.0 527.4,113.5 527.6,115.1 527.8,115.2 528.0,118.9 528.2,121.4 528.4,120.8 528.6,122.4 528.8,122.8 529.0,122.6 529.2,122.7 529.4,126.8 529.6,127.1 529.8,124.2 530.0,123.6 530.2,127.0 530.4,133.8 530.6,132.5 530.8,131.1 531.0,133.9 531.2,136.1 531.4,142.6 531.6,147.3 531.8,147.4 532.0,147.3 532.2,148.2 532.4,150.2 532.6,150.3 532.8,148.2 533.0,149.5 533.2,152.7 533.4,149.9 533.6,150.2 533.8,150.9 534.0,151.5 534.2,152.1 534.4,151.1 534.6,150.2 534.8,153.7 535.0,158.4 535.2,161.4 535.5,167.3 535.7,171.8 535.9,174.8 536.1,168.6 536.3,164.8 536.5,155.3 536.7,152.4 536.9,149.4 537.1,148.4 537.3,153.0 537.5,154.8 537.7,160.0 537.9,158.5 538.1,160.7 538.3,165.6 538.5,166.3 538.7,170.4 538.9,171.9 539.1,175.2 539.3,178.5 539.5,186.6 539.7,185.9 539.9,190.3 540.1,196.0 540.3,204.9 540.5,210.7 540.8,221.4 541.0,225.2 541.2,234.1 541.4,229.4 541.6,233.1 541.8,233.4 542.0,229.3 542.2,227.2 542.4,223.5 542.6,226.0 542.8,225.7 542.9,219.3 543.1,218.5 543.3,219.5 543.5,218.2 543.7,218.1 543.9,216.5 544.1,215.8 544.3,215.0 544.5,210.2 544.7,212.3 544.9,208.4 545.1,205.0 545.3,198.0 545.5,192.7 545.7,186.9 545.9,183.7 546.1,176.3 546.3,176.2 546.5,172.5 546.7,168.1 546.9,163.7 547.1,162.8 547.3,163.8 547.5,160.0 547.7,161.2 547.9,170.2 548.1,167.7 548.3,168.4 548.5,172.4 548.7,173.8 548.9,171.0 549.1,174.6 549.3,179.7 549.5,180.6 549.7,187.3 549.9,191.6 550.1,197.5 550.3,196.6 550.5,199.6 550.7,206.6 550.9,213.6 551.1,211.5 551.3,207.2 551.5,208.5 551.7,208.9 551.8,210.1 552.0,208.7 552.2,207.0 552.4,205.6 552.6,208.9 552.8,210.5 553.0,214.3 553.2,213.3 553.4,216.6 553.6,217.2 553.8,219.1 553.9,223.2 554.1,225.0 554.3,225.9 554.5,223.4 554.7,225.3 554.9,229.0 555.1,229.1 555.3,230.7 555.5,227.9 555.7,226.3 555.9,229.0 556.0,233.4 556.2,233.1 556.4,232.5 556.6,233.2 556.8,231.0 557.0,232.0 557.2,230.6 557.4,226.9 557.6,225.3 557.8,222.1 558.0,219.3 558.2,217.9 558.4,216.8 558.6,212.8 558.8,204.4 559.0,200.4 559.2,199.8 559.4,195.7 559.6,194.8 559.8,191.9 560.0,187.6 560.2,188.6 560.4,191.7 560.6,195.3 560.8,199.6 561.0,197.5 561.2,195.8 561.4,195.2 561.6,193.5 561.8,200.3 562.0,199.4 562.2,200.2 562.4,202.3 562.6,205.1 562.8,210.4 563.0,209.2 563.2,213.0 563.4,215.0 563.6,214.5 563.8,208.4 564.0,210.3 564.2,205.9 564.4,203.0 564.5,198.2 564.7,200.0 564.9,199.8 565.1,200.8 565.3,200.1 565.5,197.9 565.7,199.9 565.9,199.2 566.1,198.0 566.3,197.1 566.5,196.6 566.6,194.9 566.8,192.1 567.0,185.6 567.2,188.5 567.4,182.8 567.6,174.8 567.8,176.2 568.0,179.4 568.2,176.1 568.4,174.1 568.6,175.3 568.7,174.0 568.9,174.6 569.1,174.3 569.3,174.4 569.5,173.9 569.7,179.1 569.9,177.9 570.1,173.0 570.3,174.0 570.5,171.3 570.7,171.8 570.9,171.3 571.1,172.0 571.3,172.5 571.5,172.1 571.7,171.7 571.9,171.7 572.0,171.6 572.2,171.7 572.4,171.6 572.6,171.4 572.8,172.3 573.0,171.8 573.2,172.8 573.4,172.3 573.6,172.3 573.8,171.8 574.0,172.7 574.2,171.4 574.4,173.9 574.6,173.8 574.8,173.0 575.0,173.8 575.2,174.0 575.4,174.0 575.5,173.4 575.7,173.7 575.9,173.5 576.1,174.0 576.3,173.4 576.5,171.5 576.7,167.9 576.9,164.5 577.1,162.1 577.3,160.7 577.5,160.8 577.7,161.1 577.9,162.0 578.1,160.9 578.2,163.6 578.4,164.3 578.6,163.0 578.8,164.5 579.0,164.0 579.2,163.1 579.4,164.4 579.6,164.2 579.8,163.2 580.0,160.9 580.2,158.4 580.3,155.5 580.5,154.6 580.7,158.5 580.9,160.4 581.1,160.1 581.3,163.5 581.5,164.4 581.7,164.5 581.9,163.5 582.1,159.7 582.3,159.5 582.4,157.7 582.6,152.7 582.8,151.7 583.0,152.5 583.2,152.1 583.4,152.5 583.6,153.7 583.8,153.5 584.0,151.7 584.2,151.1 584.4,148.6 584.6,143.3 584.8,143.9 585.0,149.0 585.2,147.0 585.4,148.6 585.6,151.3 585.8,148.3 586.0,146.8 586.2,146.9 586.4,147.6 586.6,144.0 586.8,141.9 587.0,141.3 587.2,143.1 587.4,143.5 587.6,145.1 587.8,145.2 588.0,144.5 588.2,142.1 588.4,145.4 588.6,144.7 588.8,140.7 589.0,145.5 589.2,143.5 589.4,141.2 589.6,143.8 589.8,140.9 590.0,137.7 590.2,139.6 590.4,139.5 590.6,139.6 590.8,139.6 591.0,142.3 591.2,142.2 591.3,141.6 591.5,141.7 591.7,141.7 591.9,141.7 592.1,140.4 592.3,142.2 592.5,139.4 592.7,137.4 592.9,138.8 593.1,142.9 593.3,146.4 593.5,147.0 593.7,149.3 593.9,147.6 594.1,151.2 594.3,160.0 594.5,158.4 594.7,162.8 594.9,163.5 595.1,163.4 595.3,162.9 595.5,163.2 595.7,160.7 595.9,158.0 596.1,163.1 596.3,164.1 596.5,164.2 596.7,162.3 596.9,163.3 597.1,161.6 597.3,164.1 597.5,164.3 597.7,164.1 597.9,164.3 598.1,164.3 598.3,164.2 598.5,161.9 598.7,157.6 598.9,158.1 599.1,157.8 599.3,158.9 599.5,163.4 599.7,162.3 599.9,162.0 600.1,163.7 600.3,166.1 600.4,167.6 600.6,170.8 600.8,168.8 601.0,171.9 601.2,176.0 601.4,180.0 601.6,174.2 601.8,169.5 602.1,164.5 602.3,160.1 602.5,157.8 602.7,158.1 602.9,161.2 603.1,161.7 603.3,161.4 603.5,159.5 603.7,163.2 603.9,163.2 604.0,165.2 604.2,169.5 604.4,172.2 604.6,179.4 604.8,180.4 605.0,184.2 605.2,187.4 605.4,187.0 605.6,188.5 605.8,189.2 606.0,189.1 606.2,187.4 606.4,187.1 606.6,187.0 606.8,188.0 607.0,188.7 607.2,189.4 607.4,188.7 607.6,189.5 607.8,188.8 607.9,189.3 608.1,187.6 608.3,187.8 608.5,187.9 608.7,187.1 608.9,188.3 609.1,190.3 609.3,187.1 609.5,189.5 609.7,193.4 609.9,192.7 610.1,191.8 610.3,195.2 610.5,194.9 610.7,195.2 610.9,195.9 611.1,200.2 611.3,198.7 611.5,199.9 611.6,200.3 611.8,200.1 612.0,199.3 612.2,200.1 612.4,200.3 612.6,199.1 612.8,200.5 613.0,199.1 613.2,203.2 613.4,203.7 613.6,202.6 613.8,203.7 614.0,206.4 614.2,206.8 614.4,204.9 614.6,203.0 614.8,200.6 615.0,201.2 615.2,202.8 615.4,203.1 615.6,204.3 615.8,206.6 616.0,206.6 616.2,205.4 616.4,204.1 616.6,206.4 616.8,204.9 617.0,212.6 617.2,214.5 617.3,217.1 617.5,217.2 617.7,224.2 617.9,226.9 618.1,226.3 618.3,230.8 618.5,231.2 618.7,235.2 618.9,237.0 619.1,238.2 619.3,240.0 619.5,238.4 619.7,243.1 619.9,242.6 620.1,247.5 620.3,247.8 620.5,250.7 620.7,254.9 620.9,260.4 621.1,261.2 621.3,256.1 621.5,251.7 621.7,250.4 621.9,249.1 622.0,245.5 622.2,245.4 622.4,239.2 622.6,240.9 622.8,244.0 623.0,246.5 623.2,244.3 623.4,246.8 623.6,244.4 623.8,245.3 623.9,242.2 624.1,240.1 624.3,238.9 624.5,231.8 624.7,228.7 624.9,227.5 625.1,226.3 625.3,226.0 625.5,225.3 625.7,222.2 625.9,222.9 626.1,219.5 626.3,218.1 626.5,215.8 626.7,211.6 626.9,211.8 627.1,210.4 627.3,206.1 627.5,204.6 627.7,202.3 627.9,202.1 628.1,202.2 628.3,206.1 628.5,203.3 628.7,205.7 628.9,205.2 629.1,203.4 629.3,202.5 629.5,204.8 629.7,206.9 629.9,212.9 630.0,209.7 630.2,212.5 630.4,211.1 630.6,215.6 630.8,218.9 631.0,220.7 631.2,226.1 631.4,226.6 631.6,224.5 631.8,223.2 632.0,218.8 632.2,218.3 632.4,219.0 632.6,219.8 632.8,217.6 633.0,213.8 633.2,209.6 633.3,205.8 633.5,203.3 633.7,201.7 633.9,196.3 634.1,197.2 634.3,192.4 634.5,189.8 634.7,189.6 634.9,189.3 635.1,192.3 635.3,190.6 635.5,187.7 635.7,188.0 635.9,185.0 636.1,185.8 636.3,184.6 636.4,183.9 636.6,182.7 636.8,180.2 637.0,177.7 637.2,177.3 637.4,177.5 637.6,174.9 637.8,179.1 638.0,181.9 638.2,177.3 638.4,178.6 638.5,176.8 638.7,175.8 638.9,172.2 639.1,174.9 639.3,171.2 639.5,169.4 639.7,173.6 639.9,174.8 640.1,173.5 640.3,175.2 640.5,181.3 640.6,183.9 640.8,185.6 641.0,182.1 641.2,182.8 641.4,186.1 641.6,185.5 641.8,190.8 642.0,191.1 642.2,190.8 642.4,191.1 642.6,192.7 642.7,197.1 642.9,197.5 643.1,194.8 643.3,196.4 643.5,199.6 643.7,205.4 643.9,201.8 644.1,199.5 644.3,198.2 644.5,199.2 644.7,198.8 644.9,198.5 645.1,198.6 645.3,198.1 645.5,197.8 645.7,198.2 645.9,198.3 646.0,198.1 646.2,200.7 646.4,199.4 646.6,200.2 646.8,201.5 647.0,204.4 647.2,205.3 647.4,206.6 647.6,205.0 647.8,204.2 648.0,199.1 648.2,198.0 648.4,199.6 648.6,206.6 648.8,212.5 649.0,216.0 649.2,214.4 649.4,209.7 649.6,207.1 649.8,203.5 650.0,203.6 650.1,197.7 650.3,198.3 650.5,195.4 650.7,191.4 650.9,188.8 651.1,186.4 651.3,184.1 651.5,185.0 651.7,187.3 651.9,186.8 652.1,187.6 652.3,187.8 652.5,183.8 652.7,185.0 652.9,185.9 653.1,182.9 653.2,183.5 653.4,185.4 653.6,186.9 653.8,184.7 654.0,182.5 654.2,179.1 654.4,175.4 654.6,175.6 654.8,175.4 655.0,178.0 655.2,178.2 655.4,176.9 655.6,177.1 655.8,175.1 656.0,172.3 656.2,171.9 656.4,168.8 656.6,163.4 656.8,161.1 657.0,163.3 657.2,165.1 657.4,169.7 657.6,171.3 657.8,174.5 658.0,174.2 658.1,172.1 658.3,172.4 658.5,169.0 658.7,169.9 658.9,167.8 659.1,167.6 659.3,164.5 659.5,163.2 659.7,164.7 659.9,163.3 660.1,160.6 660.3,160.4 660.5,161.7 660.7,158.5 660.9,159.6 661.1,157.3 661.3,154.3 661.5,153.3 661.7,150.6 661.8,147.2 662.0,149.0 662.2,149.4 662.4,147.6 662.6,147.5 662.8,147.5 663.0,146.9 663.2,149.0 663.4,151.8 663.6,153.4 663.8,158.7 664.0,160.6 664.2,159.1 664.4,158.9 664.6,162.5 664.8,165.9 665.0,167.5 665.2,167.0 665.4,169.4 665.6,170.2 665.8,171.3 666.0,165.0 666.2,162.8 666.4,158.8 666.6,158.5 666.8,158.0 666.9,154.6 667.1,157.9 667.3,155.1 667.5,159.2 667.7,156.7 667.9,154.3 668.1,157.3 668.3,157.3 668.5,157.4 668.7,154.6 668.9,156.8 669.0,161.2 669.2,164.6 669.4,168.1 669.6,169.2 669.8,169.5 670.0,168.1 670.2,163.4 670.4,160.3 670.6,160.9 670.8,164.9 671.0,167.5 671.1,164.7 671.3,165.7 671.5,163.8 671.7,163.0 671.9,159.5 672.1,157.5 672.3,156.9 672.5,163.2 672.8,164.1 673.0,168.9 673.2,174.4 673.4,174.7 673.6,175.8 673.8,175.0 674.0,175.4 674.2,173.6 674.4,175.9 674.6,173.4 674.8,173.4 674.9,171.1 675.1,169.4 675.3,165.0 675.5,164.1 675.7,167.2 675.9,165.7 676.1,163.6 676.3,161.7 676.5,162.9 676.7,162.1 676.9,162.2 677.1,162.0 677.3,163.2 677.5,157.8 677.7,156.1 677.9,156.5 678.1,158.3 678.3,157.1 678.5,158.9 678.7,159.5 678.9,162.4 679.1,157.5 679.3,157.0 679.5,156.0 679.7,161.9 679.9,162.0 680.1,161.1 680.3,164.0 680.4,166.0 680.6,165.6 680.8,170.2 681.0,174.4 681.2,176.9 681.4,177.0 681.6,176.6 681.8,178.8 682.0,183.8 682.2,187.6 682.4,193.0 682.6,195.8 682.7,192.8 682.9,198.7 683.1,196.8 683.3,201.9 683.5,205.0 683.7,204.1 683.9,202.5 684.1,201.4 684.3,200.8 684.5,199.9 684.7,194.1 684.9,195.0 685.1,191.4 685.3,183.6 685.5,184.0 685.7,179.7 685.9,177.9 686.1,176.3 686.3,173.4 686.5,173.3 686.7,171.3 686.9,169.2 687.1,167.7 687.3,167.7 687.5,174.5 687.7,178.1 687.9,174.2 688.1,175.3 688.3,179.7 688.5,179.2 688.7,181.8 688.9,183.1 689.1,180.5 689.3,180.0 689.5,183.8 689.7,187.9 689.9,187.5 690.1,191.4 690.3,192.5 690.5,192.4 690.7,193.0 690.9,192.8 691.1,190.5 691.3,190.6 691.5,190.4 691.7,190.9 691.9,192.0 692.1,196.5 692.3,193.5 692.5,193.3 692.7,192.2 692.9,195.8 693.1,200.6 693.3,199.8 693.5,205.1 693.7,203.6 693.9,206.6 694.1,208.5 694.3,209.2 694.5,209.5 694.7,211.9 694.8,214.4 695.0,217.1 695.2,217.1 695.4,214.9 695.6,219.4 695.8,223.7 696.0,223.3 696.2,224.3 696.4,227.4 696.6,228.5 696.8,221.6 697.0,218.2 697.2,219.9 697.4,216.0 697.6,209.6 697.8,205.8 698.0,203.1 698.2,203.0 698.4,202.6 698.6,204.1 698.8,204.5 699.0,204.0 699.2,200.3 699.4,200.1 699.6,197.8 699.7,198.8 699.9,199.5 700.1,199.8 700.3,197.9 700.5,200.9 700.7,202.0 700.9,204.4 701.1,205.6 701.3,205.4 701.5,205.3 701.7,203.0 701.8,197.7 702.0,194.4 702.2,195.1 702.4,196.6 702.6,196.2 702.8,195.6 703.0,198.1 703.2,197.8 703.4,198.9 703.6,201.4 703.8,198.1 703.9,199.3 704.1,202.0 704.3,205.5 704.5,209.7 704.7,209.6 704.9,208.3 705.1,207.1 705.3,203.4 705.5,203.4 705.7,207.2 705.9,203.3 706.1,205.0 706.3,202.7 706.5,203.1 706.7,201.8 706.9,204.1 707.1,201.4 707.3,202.3 707.5,199.4 707.7,199.0 707.9,198.4 708.1,199.8 708.3,198.8 708.5,199.2 708.7,199.3 708.9,199.3 709.1,199.6 709.2,201.7 709.4,205.7 709.6,208.1 709.8,206.8 710.0,206.6 710.2,210.4 710.4,214.7 710.6,209.3 710.8,213.2 711.0,213.1 711.2,213.9 711.4,216.8 711.6,218.8 711.8,217.7 712.0,222.9 712.2,225.9 712.4,226.2 712.6,228.2 712.8,226.9 712.9,225.3 713.1,226.0 713.3,228.4 713.5,230.2 713.7,229.7 713.9,227.7 714.1,225.0 714.3,230.4 714.5,232.9 714.7,232.4 714.9,236.9 715.1,239.7 715.3,240.1 715.5,240.1 715.7,239.5 715.9,241.2 716.1,240.8 716.3,241.0 716.5,240.6 716.7,241.2 716.9,239.6 717.1,236.2 717.3,235.5 717.5,238.3 717.7,235.9 717.9,238.6 718.1,234.9 718.3,237.2 718.5,231.7 718.7,228.4 718.9,230.6 719.1,232.9 719.3,233.2 719.5,235.3 719.7,237.4 719.9,239.3 720.1,245.3 720.2,247.7 720.4,246.2 720.6,244.3 720.8,247.9 721.0,249.2 721.2,249.8 721.4,248.5 721.6,249.8 721.8,251.7 722.0,249.8 722.2,253.0 722.4,252.8 722.6,252.8 722.8,251.6 723.0,246.4 723.2,243.3 723.4,241.4 723.6,246.4 723.8,243.2 724.0,244.3 724.1,243.3 724.3,241.3 724.5,241.7 724.7,235.5 724.9,236.6 725.1,240.3 725.3,239.9 725.5,238.5 725.7,237.7 725.9,238.2 726.1,235.8 726.3,232.9 726.5,235.6 726.7,231.0 726.9,232.7 727.1,231.4 727.3,229.5 727.5,230.5 727.7,229.6 727.8,225.3 728.0,219.3 728.2,217.2 728.4,216.3 728.6,217.6 728.8,208.8 729.0,210.0 729.2,209.4 729.4,212.1 729.6,211.7 729.8,208.1 730.0,211.5 730.2,208.3 730.4,214.5 730.6,214.6 730.8,214.8 731.0,210.5 731.2,209.4 731.3,213.7 731.5,214.3 731.7,214.0 731.9,215.0 732.1,214.8 732.3,214.6 732.5,214.7 732.7,214.6 732.9,214.2 733.1,214.6 733.3,213.5 733.5,214.2 733.7,214.0 733.9,212.3 734.1,212.1 734.3,212.3 734.5,215.8 734.7,215.5 734.9,212.5 735.1,212.3 735.3,212.1 735.5,213.3 735.7,216.1 735.9,216.1 736.1,218.5 736.3,219.8 736.5,225.1 736.7,226.5 736.9,222.0 737.1,224.9 737.3,225.0 737.5,221.1 737.7,220.3 737.9,221.3 738.0,222.8 738.2,222.3 738.4,220.1 738.6,221.0 738.8,218.2 739.0,217.1 739.2,218.1 739.4,213.5 739.6,213.5 739.8,211.1 740.0,210.8 740.2,206.8 740.4,205.8 740.6,210.2 740.8,211.4 741.0,214.9 741.2,211.5 741.4,209.3 741.6,210.9 741.8,213.3 741.9,214.8 742.1,211.9 742.3,213.5 742.5,213.6 742.7,214.3 742.9,214.8 743.1,214.9 743.3,211.5 743.5,209.2 743.7,205.9 743.9,202.9 744.1,200.1 744.3,201.2 744.5,198.5 744.7,196.5 744.9,196.0 745.1,195.8 745.3,199.5 745.5,194.5 745.7,193.3 745.9,195.5 746.1,194.5 746.3,194.7 746.5,198.0 746.7,194.3 746.9,193.8 747.1,195.2 747.3,193.1 747.5,188.1 747.7,187.1 747.9,193.2 748.1,190.9 748.3,191.5 748.5,192.2 748.7,191.4 748.9,191.5 749.0,193.0 749.2,200.5 749.4,201.8 749.6,202.0 749.8,203.8 750.0,207.7 750.2,207.1 750.4,205.7 750.6,206.0 750.8,205.6 751.0,205.9 751.2,205.9 751.4,206.0 751.6,206.2 751.8,206.5 752.0,209.2 752.2,207.5 752.4,207.6 752.5,211.2 752.7,210.6 752.9,215.2 753.1,216.5 753.3,218.3 753.5,213.2 753.7,215.5 753.9,216.5 754.1,218.1 754.3,219.4 754.5,220.9 754.7,220.8 754.9,220.4 755.1,221.1 755.3,218.2 755.5,220.7 755.6,219.7 755.8,218.7 756.0,217.2 756.2,213.7 756.4,214.6 756.6,214.6 756.8,214.9 757.0,218.7 757.2,215.7 757.4,214.1 757.6,213.2 757.7,214.5 757.9,213.2 758.1,214.7 758.3,215.0 758.5,209.7 758.7,207.1 758.9,209.8 759.1,209.3 759.3,211.7 759.5,213.7 759.7,217.2 759.8,211.4 760.0,209.9 760.2,207.8 760.4,208.4 760.6,211.4 760.8,218.8 761.0,215.1 761.2,212.5 761.4,211.4 761.6,211.3 761.8,209.5 761.9,209.4 762.1,210.2 762.3,206.2 762.5,205.0 762.7,200.1 762.9,197.8 763.1,199.1 763.3,197.4 763.5,200.1 763.7,200.4 763.9,201.7 764.0,201.0 764.2,202.2 764.4,204.0 764.6,203.4 764.8,201.1 765.0,198.7 765.2,204.2 765.4,201.4 765.6,203.4 765.8,201.8 766.0,204.2 766.2,202.6 766.4,205.7 766.6,208.7 766.8,214.6 767.0,219.3 767.2,219.8 767.4,215.2 767.6,212.9 767.8,214.0 768.0,216.1 768.2,219.5 768.3,214.3 768.5,214.8 768.7,213.0 768.9,214.3 769.1,209.4 769.3,208.4 769.5,209.5 769.7,207.3 769.9,205.7 770.1,202.6 770.3,204.8 770.4,200.8 770.6,198.3 770.8,198.7 771.0,199.0 771.2,199.6 771.4,199.7 771.6,201.7 771.8,201.9 772.0,202.3 772.2,200.9 772.4,198.6 772.6,198.8 772.8,198.3 773.0,200.5 773.2,204.1 773.4,201.7 773.6,199.4 773.8,201.3 774.0,200.2 774.2,205.2 774.4,204.9 774.6,204.0 774.8,200.4 775.0,200.5 775.2,198.6 775.4,195.8 775.6,198.6 775.7,199.0 775.9,196.1 776.1,199.1 776.3,198.3 776.5,198.9 776.7,198.6 776.9,200.9 777.1,201.7 777.3,200.1 777.5,201.3 777.7,199.6 777.8,199.2 778.0,202.7 778.2,199.3 778.4,196.0 778.6,194.3 778.8,192.3 779.0,191.2 779.2,188.7 779.4,187.3 779.6,186.5 779.8,186.6 780.0,183.0 780.2,182.8 780.4,181.5 780.6,181.9 780.8,181.7 781.0,182.9 781.2,184.1 781.4,183.3 781.6,182.6 781.8,186.5 782.0,182.8 782.2,188.5 782.4,188.3 782.6,191.2 782.8,195.1 783.0,197.1 783.1,197.9 783.3,197.0 783.5,197.4 783.7,196.9 783.9,196.8 784.1,196.6 784.3,193.7 784.5,192.2 784.7,186.2 784.9,182.7 785.1,187.1 785.2,184.7 785.4,183.9 785.6,188.1 785.8,190.2 786.0,189.9 786.2,191.1 786.4,189.8 786.6,186.9 786.8,188.8 787.0,188.5 787.2,191.9 787.3,190.6 787.5,189.1 787.7,189.3 787.9,188.2 788.1,186.8 788.3,183.9 788.5,184.2 788.7,182.6 788.9,182.6 789.1,183.9 789.3,182.4 789.5,183.2 789.7,185.4 789.9,182.9 790.1,182.7 790.3,182.5 790.5,182.5 790.7,182.7 790.9,183.1 791.1,183.2 791.3,183.8 791.5,187.0 791.7,187.4 791.9,190.1 792.1,192.3 792.3,192.0 792.5,190.7 792.7,193.4 792.9,194.7 793.1,194.4 793.3,194.6 793.5,193.8 793.7,194.2 793.9,192.5 794.1,194.8 794.3,194.3 794.5,191.8 794.7,193.4 794.9,191.0 795.1,193.7 795.3,193.0 795.5,191.4 795.7,192.4 795.8,188.9 796.0,185.1 796.2,184.5 796.4,187.8 796.6,189.8 796.8,189.1 797.0,191.0 797.2,189.3 797.4,185.7 797.6,180.8 797.8,180.8 797.9,182.5 798.1,182.8 798.3,182.0 798.5,180.3 798.7,182.5 798.9,181.7 799.1,179.4 799.3,183.0 799.5,183.1 799.7,183.1 799.9,182.3 800.1,182.6 800.3,182.5 800.5,182.8 800.7,182.6 800.9,182.8 801.1,180.1 801.3,179.7 801.5,176.9 801.7,176.2 801.9,180.4 802.1,177.5 802.3,180.1 802.5,179.2 802.7,180.0 802.9,179.4 803.1,179.5 803.2,178.8 803.4,178.2 803.6,177.9 803.8,179.1 804.0,179.1 804.2,179.5 804.4,179.3 804.6,179.4 804.8,178.8 805.0,179.9 805.2,178.6 805.3,178.0 805.5,178.4 805.7,177.0 805.9,176.5 806.1,176.3 806.3,178.6 806.5,179.5 806.7,177.8 806.9,177.7 807.1,177.6 807.3,177.2 807.4,178.3 807.6,178.6 807.8,177.3 808.0,177.2 808.2,177.9 808.4,178.5 808.6,177.8 808.8,177.4 809.0,177.1 809.2,177.2 809.4,179.0 809.5,183.6 809.7,185.5 809.9,185.7 810.1,182.8 810.3,184.6 810.5,189.2 810.7,186.7 810.9,186.9 811.1,187.0 811.3,189.0 811.5,187.8 811.7,188.1 811.9,188.3 812.1,188.4 812.3,190.5 812.5,190.6 812.6,190.6 812.8,190.1 813.0,189.5 813.2,188.7 813.4,190.7 813.6,190.1 813.8,189.7 814.0,188.9 814.2,190.2 814.4,188.4 814.6,190.2 814.8,188.1 815.0,187.1 815.2,187.5 815.4,192.2 815.6,192.4 815.8,195.9 816.0,191.4 816.2,195.1 816.4,196.8 816.6,197.7 816.8,199.5 817.0,200.0 817.2,198.9 817.4,198.4 817.5,199.6 817.7,197.8 817.9,199.8 818.1,200.0 818.3,199.2 818.5,199.5 818.7,200.0 818.9,200.0 819.1,200.1 819.3,200.1 819.5,198.9 819.7,200.0 819.9,199.9 820.1,198.7 820.3,199.2 820.5,202.6 820.7,202.6 820.9,200.6 821.1,203.1 821.2,208.1 821.4,202.5 821.6,203.8 821.8,201.5 822.0,201.7 822.2,199.0 822.4,206.5 822.6,205.7 822.8,206.7 823.0,205.8 823.2,204.2 823.3,204.0 823.5,205.4 823.7,210.8 823.9,212.5 824.1,217.0 824.3,215.6 824.5,215.5 824.7,219.6 824.9,218.8 825.1,219.9 825.3,221.9 825.5,223.9 825.7,219.2 825.9,218.3 826.1,219.5 826.3,223.5 826.5,223.4 826.7,228.9 826.9,225.9 827.1,227.8 827.3,230.8 827.5,232.5 827.7,231.0 827.9,234.1 828.1,235.0 828.3,231.6 828.5,233.4 828.6,231.4 828.8,236.2 829.0,234.1 829.2,234.8 829.4,235.4 829.6,233.5 829.8,232.3 830.0,234.4 830.2,234.9 830.4,233.9 830.6,234.3 830.7,235.8 830.9,235.4 831.1,235.3 831.3,235.3 831.5,235.2 831.7,234.7 831.9,234.3 832.1,233.7 832.3,234.7 832.5,235.5 832.7,234.6 832.8,234.8 833.0,233.5 833.2,233.5 833.4,234.6 833.6,236.3 833.8,238.4 834.0,240.3 834.2,238.5 834.4,237.1 834.6,235.8 834.8,236.1 834.9,235.6 835.1,233.4 835.3,233.8 835.5,235.5 835.7,240.2 835.9,238.9 836.1,238.9 836.3,239.7 836.5,237.7 836.7,240.1 836.9,240.0 837.0,242.1 837.2,241.6 837.4,243.4 837.6,244.5 837.8,247.6 838.0,249.5 838.2,253.9 838.4,252.9 838.6,256.3 838.8,259.6 839.0,264.0 839.2,267.1 839.4,265.1 839.6,262.4 839.8,270.0 840.0,272.4 840.3,276.0 840.5,279.7 840.7,282.3 840.9,284.5 841.1,288.7 841.3,290.6 841.5,292.3 841.7,299.7 841.9,297.5 842.1,292.8 842.3,288.6 842.5,287.0 842.7,286.6 842.9,285.9 843.1,287.7 843.3,289.1 843.5,290.3 843.7,287.3 843.9,286.0 844.1,288.8 844.3,287.4 844.5,287.3 844.7,287.7 844.9,287.3 845.1,287.7 845.3,287.8 845.5,287.6 845.7,292.2 845.9,294.2 846.1,295.6 846.3,298.4 846.5,301.9 846.7,302.1 846.9,304.0 847.1,308.8 847.4,319.8 847.6,334.2 847.9,338.4 848.1,341.5 848.3,336.3 848.5,331.1 848.7,326.6 848.9,320.9 849.1,321.7 849.3,322.0 849.5,321.0 849.7,320.7 849.9,322.0 850.1,321.9 850.3,316.7 850.5,315.1 850.7,312.4 850.9,319.3 851.1,319.8 851.4,323.1 851.6,330.5 851.8,332.0 852.0,336.0 852.2,335.2 852.4,332.3 852.6,330.5 852.8,324.0 853.0,321.7 853.2,318.5 853.4,313.8 853.6,308.6 853.8,302.5 854.0,302.6 854.2,301.8 854.4,300.3 854.6,301.8 854.8,301.7 855.0,301.3 855.2,301.1 855.4,300.5 855.6,298.2 855.8,295.2 856.0,293.0 856.2,290.8 856.4,290.6 856.6,288.3 856.8,287.0 857.0,295.1 857.2,307.9 857.4,317.2 857.6,312.9 857.8,313.8 858.0,310.5 858.2,305.2 858.4,302.2 858.6,302.4 858.8,299.4 859.0,295.1 859.2,294.2 859.4,295.6 859.6,291.7 859.8,293.0 860.1,294.0 860.3,294.0 860.5,293.8 860.7,291.2 860.9,291.6 861.1,298.5 861.3,297.9 861.5,298.9 861.7,300.4 861.9,299.7 862.1,299.5 862.3,303.9 862.5,310.0 862.7,310.9 862.9,317.4 863.1,317.1 863.3,316.1 863.5,317.9 863.7,317.7 863.9,321.1 864.1,320.2 864.3,322.3 864.5,319.1 864.7,320.9 864.9,317.2 865.1,315.7 865.3,314.9 865.5,316.0 865.7,314.1 865.9,311.2 866.1,315.6 866.3,312.7 866.5,314.0 866.7,312.9 866.9,310.9 867.1,310.0 867.3,306.6 867.5,307.6 867.7,303.9 867.9,299.3 868.1,298.4 868.3,293.4 868.5,288.8 868.7,290.0 868.9,283.3 869.1,283.8 869.3,288.5 869.5,292.7 869.7,294.8 869.9,296.7 870.1,298.5 870.3,297.0 870.5,297.8 870.7,302.7 870.9,297.7 871.1,294.2 871.3,290.6 871.5,290.8 871.8,292.1 872.0,289.0 872.2,292.7 872.4,292.3 872.6,289.4 872.8,293.6 873.0,293.3 873.2,293.6 873.4,293.8 873.6,289.8 873.8,293.6 874.0,295.3 874.2,300.7 874.4,301.5 874.6,303.0 874.8,302.7 875.0,302.8 875.2,301.6 875.4,300.7 875.6,294.4 875.8,294.0 876.0,289.0 876.2,287.6 876.4,290.7 876.6,293.1 876.8,295.2 877.0,296.2 877.2,301.4 877.4,303.6 877.6,304.7 877.8,308.9 878.0,310.0 878.2,308.7 878.4,308.6 878.6,310.1 878.8,312.6 879.0,315.0 879.2,317.1 879.4,320.0 879.6,320.2 879.8,319.6 880.0,322.6 880.2,323.0 880.4,324.5 880.6,327.8 880.8,330.5 881.0,334.1 881.2,334.5 881.4,335.1 881.6,335.5" fill="none" stroke="#0000ff" stroke-width="2.10" stroke-linejoin="round" shape-rendering="crispEdges"/>
<path d="M288.6,508.0 L390.9,508.0 A25.6,9.8 0 0 1 416.5,517.8 L416.5,557.2 A25.6,9.8 0 0 1 390.9,567.0 L288.6,567.0 A25.6,9.8 0 0 1 263.0,557.2 L263.0,532.6 L167.4,522.4 L263.0,517.8 A25.6,9.8 0 0 1 288.6,508.0 Z" fill="#c0c0c0" stroke="#383838" stroke-width="1.2"/>
<path d="M561.7,476.8 L669.9,476.8 L881.5,335.7 L734.1,476.8 A43.1,12.0 0 0 1 777.3,488.8 L777.3,537.0 A43.1,12.0 0 0 1 734.2,549.0 L561.7,549.0 A43.1,12.0 0 0 1 518.6,537.0 L518.6,488.8 A43.1,12.0 0 0 1 561.7,476.8 Z" fill="#c0c0c0" stroke="#383838" stroke-width="1.2"/>
<rect x="74" y="374.1" width="868" height="2.8" fill="#000"/>
<ellipse cx="877.5" cy="323.5" rx="46.4" ry="45.1" fill="none" stroke="#f00000" stroke-width="2.8"/>
<text x="57.8" y="101.8" font-family="'Liberation Sans', sans-serif" font-size="19.8" text-anchor="end" fill="#000">0.60</text>
<text x="57.8" y="172.4" font-family="'Liberation Sans', sans-serif" font-size="19.8" text-anchor="end" fill="#000">0.70</text>
<text x="57.8" y="242.1" font-family="'Liberation Sans', sans-serif" font-size="19.8" text-anchor="end" fill="#000">0.80</text>
<text x="57.8" y="312.6" font-family="'Liberation Sans', sans-serif" font-size="19.8" text-anchor="end" fill="#000">0.90</text>
<text x="57.8" y="382.7" font-family="'Liberation Sans', sans-serif" font-size="19.8" text-anchor="end" fill="#000">1.00</text>
<text x="57.8" y="453.6" font-family="'Liberation Sans', sans-serif" font-size="19.8" text-anchor="end" fill="#000">1.10</text>
<text x="57.8" y="523.5" font-family="'Liberation Sans', sans-serif" font-size="19.8" text-anchor="end" fill="#000">1.20</text>
<text x="57.8" y="593.4" font-family="'Liberation Sans', sans-serif" font-size="19.8" text-anchor="end" fill="#000">1.30</text>
<text x="98.1" y="636" font-family="'Liberation Sans', sans-serif" font-size="19.6" text-anchor="middle" fill="#000">99</text>
<text x="145.6" y="636" font-family="'Liberation Sans', sans-serif" font-size="19.6" text-anchor="middle" fill="#000">00</text>
<text x="193.6" y="636" font-family="'Liberation Sans', sans-serif" font-size="19.6" text-anchor="middle" fill="#000">01</text>
<text x="240.7" y="636" font-family="'Liberation Sans', sans-serif" font-size="19.6" text-anchor="middle" fill="#000">02</text>
<text x="287.5" y="636" font-family="'Liberation Sans', sans-serif" font-size="19.6" text-anchor="middle" fill="#000">03</text>
<text x="335.1" y="636" font-family="'Liberation Sans', sans-serif" font-size="19.6" text-anchor="middle" fill="#000">04</text>
<text x="382.8" y="636" font-family="'Liberation Sans', sans-serif" font-size="19.6" text-anchor="middle" fill="#000">05</text>
<text x="430.3" y="636" font-family="'Liberation Sans', sans-serif" font-size="19.6" text-anchor="middle" fill="#000">06</text>
<text x="478.2" y="636" font-family="'Liberation Sans', sans-serif" font-size="19.6" text-anchor="middle" fill="#000">07</text>
<text x="526.1" y="636" font-family="'Liberation Sans', sans-serif" font-size="19.6" text-anchor="middle" fill="#000">08</text>
<text x="573.6" y="636" font-family="'Liberation Sans', sans-serif" font-size="19.6" text-anchor="middle" fill="#000">09</text>
<text x="622.9" y="636" font-family="'Liberation Sans', sans-serif" font-size="19.6" text-anchor="middle" fill="#000">10</text>
<text x="672.1" y="636" font-family="'Liberation Sans', sans-serif" font-size="19.6" text-anchor="middle" fill="#000">11</text>
<text x="719.6" y="636" font-family="'Liberation Sans', sans-serif" font-size="19.6" text-anchor="middle" fill="#000">12</text>
<text x="767.1" y="636" font-family="'Liberation Sans', sans-serif" font-size="19.6" text-anchor="middle" fill="#000">13</text>
<text x="815.1" y="636" font-family="'Liberation Sans', sans-serif" font-size="19.6" text-anchor="middle" fill="#000">14</text>
<text x="863.1" y="636" font-family="'Liberation Sans', sans-serif" font-size="19.6" text-anchor="middle" fill="#000">15</text>
<text x="910.6" y="636" font-family="'Liberation Sans', sans-serif" font-size="19.6" text-anchor="middle" fill="#000">16</text>
<text x="339" y="534" font-family="'Liberation Sans', sans-serif" font-size="19" text-anchor="middle" fill="#000">Euro worth 84</text>
<text x="339" y="558.3" font-family="'Liberation Sans', sans-serif" font-size="19" text-anchor="middle" fill="#000">US cents</text>
<text x="646.7" y="509.2" font-family="'Liberation Sans', sans-serif" font-size="19" text-anchor="middle" fill="#000">Euro worth $1.0597 on</text>
<text x="646.3" y="533.9" font-family="'Liberation Sans', sans-serif" font-size="19" text-anchor="middle" textLength="182" lengthAdjust="spacingAndGlyphs" fill="#000">November 29th 2015</text>
<text x="465.9" y="59.4" font-family="'Liberation Sans', sans-serif" font-size="34.6" text-anchor="middle" textLength="227.6" lengthAdjust="spacingAndGlyphs" fill="#000">Euros per US $</text>
<text x="26.3" y="43.9" font-family="'Liberation Serif', serif" font-size="33" textLength="62" lengthAdjust="spacingAndGlyphs" fill="#000">Fig 3</text>
<path d="M773.5,33.26 A22.1,22.1 0 1 1 773.5,61.74 A18.3,18.3 0 1 0 773.5,33.26 Z" fill="url(#cres)"/>
<rect x="798.5" y="40.6" width="17" height="13" fill="#fff"/>
<text x="756" y="52.2" font-family="'Liberation Sans', sans-serif" font-weight="bold" font-size="13.2" textLength="42.3" lengthAdjust="spacingAndGlyphs" fill="url(#txt)" stroke="#102a78" stroke-width="0.35">STEEL</text>
<text x="804" y="52.2" font-family="'Liberation Sans', sans-serif" font-weight="bold" font-size="13.2" textLength="51.6" lengthAdjust="spacingAndGlyphs" fill="url(#txt)">MARKET</text>
<text x="860" y="52.2" font-family="'Liberation Sans', sans-serif" font-size="13.2" textLength="46.2" lengthAdjust="spacingAndGlyphs" fill="url(#txt2)">UPDATE</text>
</svg>
</body></html>
